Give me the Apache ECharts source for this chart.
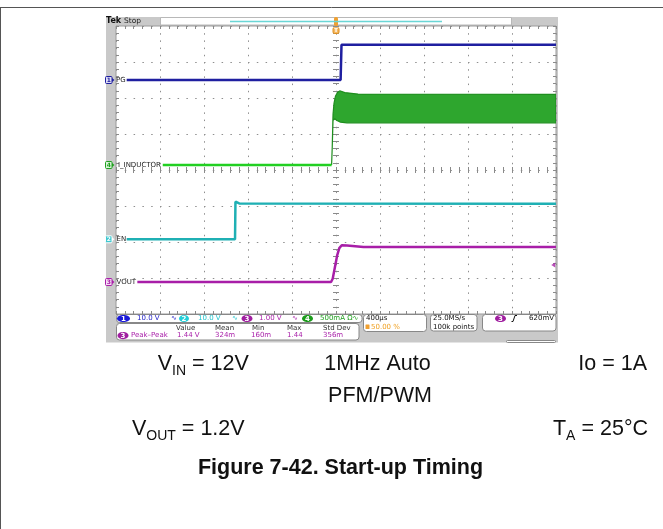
<!DOCTYPE html>
<html><head><meta charset="utf-8">
<script src="https://cdn.jsdelivr.net/npm/echarts@6/dist/echarts.min.js"></script>
<style>html,body{margin:0;padding:0;background:#fff}#c{width:663px;height:529px}</style>
</head><body><div id="c"></div>
<script>
// ---- data: time in µs (400 µs/div, trigger at 0), amplitude in screen divisions ----
const timeRange = [-2000, 2000];
const timeDiv = 400;
const divRange = [-4, 4];
const pgTrace = [[-1903,2.5],[42,2.5],[50,3.48],[2000,3.48]];
const enTrace = [[-1903,-1.925],[-918,-1.925],[-914,-0.88],[-880,-0.93],[2000,-0.94]];
const voutTrace = [[-1806,-3.11],[-45,-3.11],[-30,-3.02],[-10,-2.7],[10,-2.38],[30,-2.17],[52,-2.09],[100,-2.1],[250,-2.14],[2000,-2.14]];
const ilBase = [[-1575,0.14],[-40,0.14]];
const ilUpper = [[-40,0.14],[-34,0.65],[-27,1.55],[-18,1.85],[-5,2.05],[15,2.16],[36,2.2],[80,2.15],[200,2.11],[2000,2.1]];
const ilLower = [[-40,0.14],[-34,0.65],[-27,1.38],[-10,1.42],[5,1.38],[40,1.33],[100,1.31],[2000,1.31]];
const trigLevel = [[1975,-2.64]];
const chanNames = ['PG','I_INDUCTOR','EN','VOUT'];
const chanScales = ['10.0 V','10.0 V','1.00 V','500mA Ω∿'];
const measHeaders = ['Value','Mean','Min','Max','Std Dev'];
const measValues = ['1.44 V','324m','160m','1.44','356m'];

const C = {pg:'#1f1fa0', en:'#1fb0b4', vout:'#a81ea8', il:'#22d022', ilBand:'#2ea62e'};

const chart = echarts.init(document.getElementById('c'), null, {renderer:'canvas'});
const G = {left:116, top:26, width:440, height:288};
const tickStyle = {color:'#8a8a8a', width:1};
function xA(gi, opts){
  return Object.assign({type:'value', gridIndex:gi, min:timeRange[0], max:timeRange[1], interval:timeDiv,
    axisLabel:{show:false}, splitLine:{show:false},
    axisLine:{show:true, onZero:true, lineStyle:{color:'rgba(0,0,0,0)'}},
    axisTick:{show:true, inside:true, length:3, lineStyle:tickStyle},
    minorTick:{show:true, splitNumber:5, length:3, lineStyle:tickStyle}}, opts);
}
function yA(gi, opts){
  return Object.assign({type:'value', gridIndex:gi, min:divRange[0], max:divRange[1], interval:1,
    axisLabel:{show:false}, splitLine:{show:false},
    axisLine:{show:true, onZero:true, lineStyle:{color:'rgba(0,0,0,0)'}},
    axisTick:{show:true, inside:true, length:3, lineStyle:tickStyle},
    minorTick:{show:true, splitNumber:5, length:3, lineStyle:tickStyle}}, opts);
}

const ctx = document.createElement('canvas').getContext('2d');
function tw(t, font){ ctx.font = font; return ctx.measureText(t).width; }
function txt(x, y, t, font, fill, align){
  return {type:'text', x:x, y:y, z:20, style:{text:t, font:font, fill:fill, textAlign:align||'left', textVerticalAlign:'middle'}};
}
const SF = '7px "DejaVu Sans", sans-serif';
const SFB = 'bold 7px "DejaVu Sans", sans-serif';
function rect(x,y,w,h,fill,stroke,r,z){
  return {type:'rect', z:(z===undefined?20:z), shape:{x:x,y:y,width:w,height:h,r:r||0}, style:{fill:fill, stroke:stroke||null, lineWidth:1}};
}
function ell(cx,cy,rx,ry,fill,label,labelFill){
  return [{type:'ellipse', z:20, shape:{cx:cx,cy:cy,rx:rx,ry:ry}, style:{fill:fill}},
          txt(cx, cy+0.3, label, SFB, labelFill||'#fff', 'center')];
}
const MS = 21.5, SS = 14;
function mf(sz,b){ return (b?'bold ':'') + sz + 'px "Liberation Sans", Arial, sans-serif'; }
function phrase(x, base, parts, align, bold){
  let total = 0;
  parts.forEach(p=>{ total += tw(p[0], mf(p[1]?SS:MS, bold)); });
  let cx = align==='right' ? x - total : (align==='center' ? x - total/2 : x);
  const out = [];
  parts.forEach(p=>{
    const sz = p[1]?SS:MS, f = mf(sz, bold);
    const yy = p[1] ? base + 5 - 0.31*sz : base - 0.31*sz;
    out.push({type:'text', x:cx, y:yy, z:20, style:{text:p[0], font:f, fill:'#111', textAlign:'left', textVerticalAlign:'middle'}});
    cx += tw(p[0], f);
  });
  return out;
}

let gfx = [];
gfx.push({type:'line', z:5, shape:{x1:0,y1:7.5,x2:663,y2:7.5}, style:{stroke:'#555', lineWidth:1}});
gfx.push({type:'line', z:5, shape:{x1:0.5,y1:7,x2:0.5,y2:529}, style:{stroke:'#555', lineWidth:1}});
gfx.push(rect(106,17,452,325.5,'#c9c9c9',null,0,-3));
gfx.push(rect(160.5,17.5,351,7.5,'#ffffff','#b8b8b8',0,-2));
gfx.push({type:'line', z:21, shape:{x1:230,y1:21.5,x2:442,y2:21.5}, style:{stroke:'#6ad6d6', lineWidth:1.3}});
gfx.push(rect(116,26,440,288,'#ffffff',null,0,-2));
gfx.push(txt(106,21.3,'Tek', 'bold 8px "DejaVu Sans", sans-serif','#111'));
gfx.push(txt(124,21.3,'Stop', '7.5px "DejaVu Sans", sans-serif','#222'));
gfx.push(rect(334,17,4,9,'#f0a030',null,1.5));
gfx.push(rect(333,27.5,6,6,'#f5b860','#e09020',1.5));
gfx.push(txt(336,30.7,'T','bold 6px "DejaVu Sans", sans-serif','#fff','center'));
function chMark(y, num, col, fill, nameX, name){
  gfx.push(rect(105.5,y-3.5,6.5,7,fill,col,1));
  gfx.push(txt(108.8,y+0.2,num,'bold 6px "DejaVu Sans", sans-serif',col,'center'));
  gfx.push({type:'polygon', z:20, shape:{points:[[112,y-2],[114.5,y],[112,y+2]]}, style:{fill:col}});
  gfx.push(txt(nameX,y,name,SF,'#222'));
}
chMark(80,'1',C.pg,'#dcdcf4',116,chanNames[0]);
chMark(165,'4','#20a020','#d8f4d8',118,chanNames[1]);
chMark(239.3,'2','#ffffff','#40c8d0',116.5,chanNames[2]);
chMark(282,'3',C.vout,'#f4dcf4',116.5,chanNames[3]);
gfx.push(rect(116.5,314.5,245.5,8,'#fff','#888',3));
gfx.push(rect(116.5,323.5,242.5,16.5,'#fff','#888',3));
gfx.push(rect(363.5,314.5,63,17,'#fff','#888',3));
gfx.push(rect(430.5,314.5,46.5,16.5,'#fff','#888',3));
gfx.push(rect(482.5,314.5,73.5,16.5,'#fff','#888',3));
gfx.push(rect(506.5,340.5,49,2,'#fff','#888',1));
const r1 = 318.5;
gfx = gfx.concat(ell(123.5,r1,6.5,3.6,'#1a1ad8','1'));
gfx.push(txt(137,r1,chanScales[0],SF,'#2222c8'));
gfx.push(txt(171,r1,'∿',SF,'#2222c8'));
gfx = gfx.concat(ell(184,r1,5,3.6,'#22cfd8','2'));
gfx.push(txt(198,r1,chanScales[1],SF,'#22c4cc'));
gfx.push(txt(232,r1,'∿',SF,'#22c4cc'));
gfx = gfx.concat(ell(247,r1,5.5,3.6,'#a01ea0','3'));
gfx.push(txt(259,r1,chanScales[2],SF,'#a81ea8'));
gfx.push(txt(292,r1,'∿',SF,'#a81ea8'));
gfx = gfx.concat(ell(307.5,r1,5.5,3.6,'#1c9c1c','4'));
gfx.push(txt(320,r1,chanScales[3],SF,'#1ea01e'));
const hx = [176,215,252,287,323];
measHeaders.forEach((h,i)=>gfx.push(txt(hx[i],327.8,h,SF,'#333')));
gfx = gfx.concat(ell(123,335.6,5.5,3.6,'#a01ea0','3'));
gfx.push(txt(131,335.6,'Peak–Peak',SF,'#a81ea8'));
const vx = [177,215,251,287,323];
measValues.forEach((v,i)=>gfx.push(txt(vx[i],335.6,v,SF,'#a81ea8')));
gfx.push(txt(366,r1,'400µs',SF,'#111'));
gfx.push(rect(365.5,324.5,4,4.5,'#f0a030',null,0.5));
gfx.push(txt(371,327,'50.00 %',SF,'#f0a020'));
gfx.push(txt(433,r1,'25.0MS/s',SF,'#111'));
gfx.push(txt(433,327,'100k points',SF,'#111'));
gfx = gfx.concat(ell(500.5,r1,5.5,3.6,'#a01ea0','3'));
gfx.push({type:'polyline', z:20, shape:{points:[[511.5,321.5],[513,321.5],[515,315.5],[517,315.5]]}, style:{stroke:'#111', lineWidth:1, fill:null}});
gfx.push(txt(554,r1,'620mV',SF,'#111','right'));
gfx = gfx.concat(phrase(157.7,370.7,[['V',0],['IN',1],[' = 12V',0]],'left'));
gfx = gfx.concat(phrase(377.5,370.7,[['1MHz Auto',0]],'center'));
gfx = gfx.concat(phrase(380,403,[['PFM/PWM',0]],'center'));
gfx = gfx.concat(phrase(647,370.7,[['Io = 1A',0]],'right'));
gfx = gfx.concat(phrase(132,435.5,[['V',0],['OUT',1],[' = 1.2V',0]],'left'));
gfx = gfx.concat(phrase(648,435.5,[['T',0],['A',1],[' = 25°C',0]],'right'));
gfx = gfx.concat(phrase(340.5,475,[['Figure 7-42. Start-up Timing',0]],'center',true));

const lineS = (name, data, color, w) => ({type:'line', name:name, data:data, xAxisIndex:0, yAxisIndex:0, showSymbol:false, symbol:'none',
  lineStyle:{color:color, width:w}, z:5, clip:true, animation:false});

chart.setOption({
  animation:false,
  grid:[Object.assign({show:true, backgroundColor:'rgba(0,0,0,0)', borderColor:'#9a9a9a', borderWidth:1}, G),
        Object.assign({}, G), Object.assign({}, G), Object.assign({}, G)],
  xAxis:[
    xA(0,{splitLine:{show:true, lineStyle:{color:'#8e8e8e', width:1, type:[1.5,5.7]}}}),
    xA(1,{axisTick:{show:true, inside:false, length:3, lineStyle:tickStyle}}),
    xA(2,{position:'top', axisLine:{show:true, onZero:false, lineStyle:{color:'rgba(0,0,0,0)'}}}),
    xA(3,{position:'bottom', axisLine:{show:true, onZero:false, lineStyle:{color:'rgba(0,0,0,0)'}}})
  ],
  yAxis:[
    yA(0,{splitLine:{show:true, lineStyle:{color:'#8e8e8e', width:1, type:[1.5,7.3]}}}),
    yA(1,{axisTick:{show:true, inside:false, length:3, lineStyle:tickStyle}}),
    yA(2,{position:'right', axisLine:{show:true, onZero:false, lineStyle:{color:'rgba(0,0,0,0)'}}}),
    yA(3,{position:'left', axisLine:{show:true, onZero:false, lineStyle:{color:'rgba(0,0,0,0)'}}})
  ],
  graphic:{elements:gfx},
  series:[
    {type:'custom', name:'I_INDUCTOR band', xAxisIndex:0, yAxisIndex:0, data:[[0,0]], z:4, clip:true, animation:false,
      renderItem:function(params, api){
        if (params.dataIndex > 0) return null;
        const pts = ilUpper.map(p=>api.coord(p)).concat(ilLower.slice().reverse().map(p=>api.coord(p)));
        return {type:'polygon', shape:{points:pts}, style:{fill:C.ilBand, stroke:'#1e8e1e', lineWidth:1.2}};
      }},
    lineS('I_INDUCTOR', ilBase, C.il, 2.5),
    lineS('PG', pgTrace, C.pg, 2.5),
    lineS('EN', enTrace, C.en, 2.5),
    lineS('VOUT', voutTrace, C.vout, 2.5),
    {type:'scatter', name:'Trigger level', data:trigLevel, xAxisIndex:0, yAxisIndex:0, symbol:'triangle', symbolRotate:90, symbolSize:[5,4],
      itemStyle:{color:C.vout}, z:6, animation:false, clip:false}
  ]
});
</script>
</body></html>
